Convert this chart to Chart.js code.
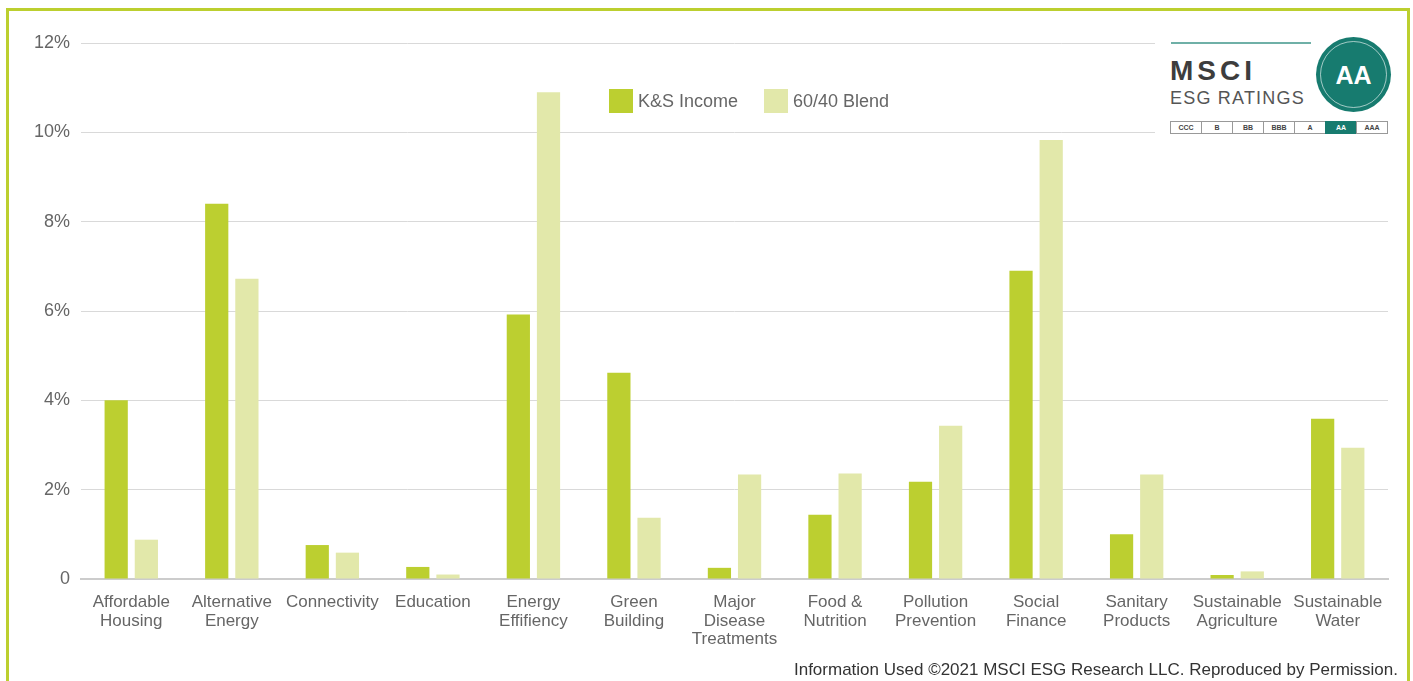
<!DOCTYPE html>
<html>
<head>
<meta charset="utf-8">
<script src="https://cdn.jsdelivr.net/npm/chart.js@4.4.0/dist/chart.umd.min.js"></script>
<style>
    body { margin: 0; background: #fff; font-family: "Liberation Sans", Arial, sans-serif; }
    #wrap { position: relative; width: 1413px; height: 681px; overflow: hidden; }
    #frame { position: absolute; left: 6px; top: 8px; width: 1398px; height: 700px; border: 3px solid #bccf2f; border-bottom: none; }
    #chartBox { position: absolute; left: 0; top: 0; width: 1413px; height: 681px; }
    #legend { position: absolute; left: 609px; top: 89px; display: flex; align-items: center; color: #666; font-size: 18px; }
    #legend .sw { width: 24px; height: 24px; margin-right: 5px; }
    #legend .item { display: flex; align-items: center; margin-right: 26px; }
    #logo { position: absolute; left: 1155px; top: 30px; width: 246px; height: 112px; background: #fff; }
    #logo .rule { position: absolute; left: 16px; top: 12px; width: 140px; height: 2px; background: #6fb0a7; }
    #logo .msci { position: absolute; left: 15px; top: 25px; font-size: 28px; font-weight: bold; letter-spacing: 4px; color: #3d3d3d; }
    #logo .esg { position: absolute; left: 15px; top: 58px; font-size: 18px; letter-spacing: 1.2px; color: #555; }
    #logo .badge { position: absolute; left: 161px; top: 7px; width: 75px; height: 75px; border-radius: 50%; background: #177b6f; }
    #logo .badge .ring { position: absolute; left: 4px; top: 4px; right: 4px; bottom: 4px; border-radius: 50%; border: 1px solid rgba(255,255,255,0.6); box-sizing: border-box; }
    #logo .badge .txt { position: absolute; left: 0; right: 0; top: 24px; text-align: center; color: #fff; font-weight: bold; font-size: 25px; }
    #logo .scale { position: absolute; left: 16px; top: 91px; display: flex; }
    #logo .scale div { width: 30px; height: 11px; border: 1px solid #999; margin-left: -1px; font-size: 7px; font-weight: bold; color: #444; text-align: center; line-height: 11px; }
    #logo .scale div.on { background: #177b6f; color: #fff; border-color: #177b6f; }
    #footer { position: absolute; right: 15px; top: 660px; font-size: 17px; color: #333; }
</style>
</head>
<body>
<div id="wrap">
    <div id="frame"></div>
    <div id="chartBox"><canvas id="esg" width="1413" height="681"></canvas></div>
    <div id="legend"></div>
    <div id="logo">
        <div class="rule"></div>
        <div class="msci">MSCI</div>
        <div class="esg">ESG RATINGS</div>
        <div class="badge"><div class="ring"></div><div class="txt">AA</div></div>
        <div class="scale"></div>
    </div>
    <div id="footer">Information Used ©2021 MSCI ESG Research LLC. Reproduced by Permission.</div>
</div>
<script>
const categories = [
    ['Affordable', 'Housing'],
    ['Alternative', 'Energy'],
    'Connectivity',
    'Education',
    ['Energy', 'Effifiency'],
    ['Green', 'Building'],
    ['Major', 'Disease', 'Treatments'],
    ['Food &', 'Nutrition'],
    ['Pollution', 'Prevention'],
    ['Social', 'Finance'],
    ['Sanitary', 'Products'],
    ['Sustainable', 'Agriculture'],
    ['Sustainable', 'Water']
];
const ksIncome = [4.0, 8.4, 0.76, 0.27, 5.92, 4.62, 0.25, 1.44, 2.18, 6.9, 1.0, 0.09, 3.59];
const blend6040 = [0.88, 6.72, 0.59, 0.1, 10.9, 1.37, 2.34, 2.36, 3.43, 9.83, 2.34, 0.17, 2.94];
const seriesNames = ['K&S Income', '60/40 Blend'];
const seriesColors = ['#bccf30', '#e2e8aa'];
const yTicks = [0, 2, 4, 6, 8, 10, 12];
const ratings = ['CCC', 'B', 'BB', 'BBB', 'A', 'AA', 'AAA'];

// legend
const legendEl = document.querySelector('#legend');
seriesNames.forEach(function (name, i) {
    const item = document.createElement('div');
    item.className = 'item';
    item.innerHTML = '<div class="sw" style="background:' + seriesColors[i] + '"></div><span>' + name + '</span>';
    legendEl.appendChild(item);
});

// rating scale
const scaleEl = document.querySelector('#logo .scale');
for (const r of ratings) {
    const cell = document.createElement('div');
    cell.textContent = r;
    if (r === 'AA') cell.className = 'on';
    scaleEl.appendChild(cell);
}

const ctx = document.querySelector('#esg').getContext('2d');
const esgChart = new Chart(ctx, {
    type: 'bar',
    data: {
        labels: categories,
        datasets: [{
            label: seriesNames[0],
            data: ksIncome,
            backgroundColor: seriesColors[0],
            categoryPercentage: 0.6,
            barPercentage: 0.77
        }, {
            label: seriesNames[1],
            data: blend6040,
            backgroundColor: seriesColors[1],
            categoryPercentage: 0.6,
            barPercentage: 0.77
        }]
    },
    options: {
        responsive: false,
        animation: false,
        devicePixelRatio: 1,
        layout: {
            padding: { top: 43, right: 25, bottom: 0, left: 0 }
        },
        scales: {
            y: {
                min: 0,
                max: 12,
                afterFit: function (scale) { scale.width = 81; },
                afterBuildTicks: function (scale) {
                    scale.ticks = yTicks.map(function (v) { return { value: v }; });
                },
                border: { display: false },
                grid: { color: '#d9d9d9', lineWidth: 1, drawTicks: false },
                ticks: {
                    padding: 11,
                    color: '#666',
                    font: { family: 'Liberation Sans', size: 18 },
                    callback: function (val) { return val === 0 ? '0' : val + '%'; }
                }
            },
            x: {
                afterFit: function (scale) { scale.height = 102; },
                border: { display: true, color: '#cccccc', width: 2 },
                grid: { display: false },
                ticks: {
                    padding: 6,
                    color: '#666',
                    maxRotation: 0,
                    autoSkip: false,
                    font: { family: 'Liberation Sans', size: 17, lineHeight: 1.1 }
                }
            }
        },
        plugins: {
            legend: { display: false },
            tooltip: { enabled: false }
        }
    }
});
</script>
</body>
</html>
